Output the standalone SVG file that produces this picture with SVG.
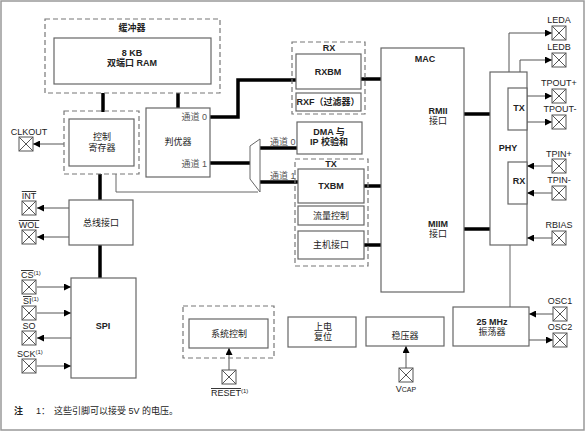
<svg xmlns="http://www.w3.org/2000/svg" xmlns:xlink="http://www.w3.org/1999/xlink" width="586" height="432" viewBox="0 0 586 432">
<style>
text{font-family:"Liberation Sans","Noto Sans CJK SC",sans-serif;font-size:9px;fill:#222}
.b{font-weight:bold}
.c{text-anchor:middle}
.r{text-anchor:end}
.g{fill:#555}
.box{fill:#fff;stroke:#666;stroke-width:1.2}
.dash{fill:none;stroke:#777;stroke-width:1.2;stroke-dasharray:5,3}
.thick{fill:none;stroke:#000;stroke-width:3.5}
.thin{fill:none;stroke:#666;stroke-width:1}
.arr{fill:none;stroke:#555;stroke-width:1;marker-end:url(#ah)}
.ol{text-decoration:overline}
.sup{font-size:6px}
</style>
<defs>
<marker id="ah" viewBox="0 0 10 10" refX="10" refY="5" markerWidth="9" markerHeight="7" markerUnits="userSpaceOnUse" orient="auto">
<path d="M0,0 L10,5 L0,10 z" fill="#000"/>
</marker>
<g id="pin">
<rect x="0" y="0" width="14" height="14" fill="#fff" stroke="#555" stroke-width="1"/>
<path d="M0,0 L14,14 M14,0 L0,14" stroke="#555" stroke-width="1"/>
</g>
</defs>
<rect x="1" y="1" width="583" height="429" fill="#fff" stroke="#999" stroke-width="1.5"/>

<g id="connectors">
<line class="thick" x1="103" y1="93" x2="103" y2="112"/>
<line class="thick" x1="178" y1="93" x2="178" y2="108"/>
<polyline class="thick" points="210,117 238,117 238,80 296,80"/>
<line class="thick" x1="210" y1="163" x2="250" y2="163"/>
<line class="thick" x1="260" y1="148" x2="297" y2="148"/>
<line class="thick" x1="260" y1="182" x2="298" y2="182"/>
<polyline class="thin" points="116,174 116,192 258,192"/>
<line class="thick" x1="361" y1="79" x2="381" y2="79"/>
<line class="thick" x1="364" y1="186" x2="381" y2="186"/>
<line class="thick" x1="364" y1="245" x2="381" y2="245"/>
<line class="thick" x1="464" y1="114" x2="490" y2="114"/>
<line class="thick" x1="464" y1="229" x2="490" y2="229"/>
<line class="thick" x1="100" y1="174" x2="100" y2="200"/>
<line class="thick" x1="100" y1="245" x2="100" y2="278"/>
<line class="thin" x1="510" y1="245" x2="510" y2="307"/>
<path class="arr" d="M64,144 H33"/>
<path class="arr" d="M69,208 H37"/>
<path class="arr" d="M69,237 H37"/>
<path class="arr" d="M37,287 H71"/>
<path class="arr" d="M37,313 H71"/>
<path class="arr" d="M71,338 H37"/>
<path class="arr" d="M37,366 H71"/>
<path class="arr" d="M229,370 V348"/>
<path class="arr" d="M406,368 V346"/>
<path class="arr" d="M509,72 V33 H552"/>
<path class="arr" d="M520,72 V60 H552"/>
<path class="arr" d="M527,96 H552"/>
<path class="arr" d="M527,122 H552"/>
<path class="arr" d="M552,166 H527"/>
<path class="arr" d="M552,193 H527"/>
<path class="arr" d="M552,238 H527"/>
<path class="arr" d="M553,314 H529"/>
<path class="arr" d="M529,340 H553"/>
</g>

<g id="buffer">
<rect class="dash" x="45" y="19" width="175" height="74"/>
<text class="c b" x="132" y="31">缓冲器</text>
<rect class="box" x="54" y="38" width="157" height="46"/>
<text class="c b" x="132" y="56">8 KB</text>
<text class="c b" x="132" y="66">双端口 RAM</text>
</g>

<g id="ctrlreg">
<rect class="dash" x="64" y="111" width="75" height="63"/>
<rect class="box" x="69" y="119" width="65" height="47"/>
<text class="c" x="102" y="140">控制</text>
<text class="c" x="102" y="151">寄存器</text>
</g>

<g id="arbiter">
<rect class="box" x="146" y="108" width="64" height="69"/>
<text class="c" x="178" y="145">判优器</text>
<text class="r g" x="207" y="120">通道 0</text>
<text class="r g" x="207" y="167">通道 1</text>
</g>

<g id="mux">
<polygon points="250,146 260,139 260,192 250,179" fill="#fff" stroke="#666" stroke-width="1"/>
<text class="g" x="270" y="145">通道 0</text>
<text class="g" x="270" y="179">通道 1</text>
</g>

<g id="rx">
<rect class="dash" x="292" y="42" width="73" height="72"/>
<text class="c b" x="329" y="51">RX</text>
<rect class="box" x="296" y="54" width="65" height="35"/>
<text class="c b" x="328" y="75">RXBM</text>
<rect class="box" x="296" y="93" width="65" height="18"/>
<text class="c b" x="328" y="105">RXF（过滤器）</text>
</g>

<g id="dma">
<rect class="box" x="297" y="122" width="65" height="32"/>
<text class="c b" x="329" y="135">DMA 与</text>
<text class="c b" x="329" y="145">IP 校验和</text>
</g>

<g id="tx">
<rect class="dash" x="295" y="159" width="73" height="107"/>
<text class="c b" x="331" y="167">TX</text>
<rect class="box" x="298" y="169" width="66" height="34"/>
<text class="c b" x="331" y="189">TXBM</text>
<rect class="box" x="298" y="206" width="66" height="19"/>
<text class="c" x="331" y="219">流量控制</text>
<rect class="box" x="298" y="231" width="66" height="28"/>
<text class="c" x="331" y="248">主机接口</text>
</g>

<g id="mac">
<rect class="box" x="381" y="48" width="83" height="244"/>
<text class="c b" x="425" y="62">MAC</text>
<text class="c b" x="438" y="114">RMII</text>
<text class="c" x="438" y="124">接口</text>
<text class="c b" x="438" y="227">MIIM</text>
<text class="c" x="438" y="237">接口</text>
</g>

<g id="phy">
<rect class="box" x="490" y="72" width="37" height="173"/>
<text class="c b" x="508" y="151">PHY</text>
<rect class="box" x="508" y="88" width="19" height="42"/>
<text class="c b" x="519" y="111">TX</text>
<rect class="box" x="508" y="162" width="19" height="42"/>
<text class="c b" x="519" y="184">RX</text>
</g>

<g id="bus">
<rect class="box" x="69" y="200" width="64" height="45"/>
<text class="c" x="101" y="226">总线接口</text>
</g>

<g id="spi">
<rect class="box" x="71" y="278" width="65" height="100"/>
<text class="c b" x="103" y="329">SPI</text>
</g>

<g id="sysctrl">
<rect class="dash" x="183" y="306" width="91" height="52"/>
<rect class="box" x="189" y="319" width="79" height="29"/>
<text class="c" x="229" y="337">系统控制</text>
</g>

<g id="por">
<rect class="box" x="288" y="317" width="68" height="30"/>
<text class="c" x="323" y="330">上电</text>
<text class="c" x="323" y="340">复位</text>
</g>

<g id="regulator">
<rect class="box" x="366" y="317" width="78" height="29"/>
<text class="c" x="405" y="339">稳压器</text>
</g>

<g id="osc">
<rect class="box" x="453" y="307" width="76" height="39"/>
<text class="c b" x="492" y="325">25 MHz</text>
<text class="c" x="492" y="335">振荡器</text>
</g>

<g id="pins">
<use xlink:href="#pin" x="552" y="26"/>
<text class="c" x="559" y="23">LEDA</text>
<use xlink:href="#pin" x="552" y="53"/>
<text class="c" x="559" y="50">LEDB</text>
<use xlink:href="#pin" x="552" y="89"/>
<text class="c" x="559" y="86">TPOUT+</text>
<use xlink:href="#pin" x="552" y="115"/>
<text class="c" x="560" y="112">TPOUT-</text>
<use xlink:href="#pin" x="552" y="159"/>
<text class="c" x="559" y="157">TPIN+</text>
<use xlink:href="#pin" x="552" y="186"/>
<text class="c" x="559" y="183">TPIN-</text>
<use xlink:href="#pin" x="552" y="231"/>
<text class="c" x="559" y="228">RBIAS</text>
<use xlink:href="#pin" x="553" y="307"/>
<text class="c" x="560" y="304">OSC1</text>
<use xlink:href="#pin" x="553" y="333"/>
<text class="c" x="560" y="330">OSC2</text>
<use xlink:href="#pin" x="19" y="137"/>
<text class="c" x="29" y="135">CLKOUT</text>
<use xlink:href="#pin" x="22" y="201"/>
<text class="c ol" x="29" y="199">INT</text>
<use xlink:href="#pin" x="22" y="230"/>
<text class="c ol" x="29" y="228">WOL</text>
<use xlink:href="#pin" x="22" y="280"/>
<text x="21" y="278"><tspan class="ol">CS</tspan><tspan class="sup" dy="-3">(1)</tspan></text>
<use xlink:href="#pin" x="22" y="306"/>
<text x="23" y="304"><tspan class="ol">SI</tspan><tspan class="sup" dy="-3">(1)</tspan></text>
<use xlink:href="#pin" x="22" y="331"/>
<text class="c" x="29" y="329">SO</text>
<use xlink:href="#pin" x="22" y="359"/>
<text x="17" y="357">SCK<tspan class="sup" dy="-3">(1)</tspan></text>
<use xlink:href="#pin" x="222" y="370"/>
<text x="211" y="396"><tspan class="ol">RESET</tspan><tspan class="sup" dy="-3">(1)</tspan></text>
<use xlink:href="#pin" x="399" y="368"/>
<text class="c" x="406" y="392">V<tspan style="font-size:7px">CAP</tspan></text>
</g>

<g id="note">
<text class="b" x="14" y="414">注</text>
<text x="36" y="414">1：</text>
<text x="54" y="414">这些引脚可以接受 5V 的电压。</text>
</g>
</svg>
